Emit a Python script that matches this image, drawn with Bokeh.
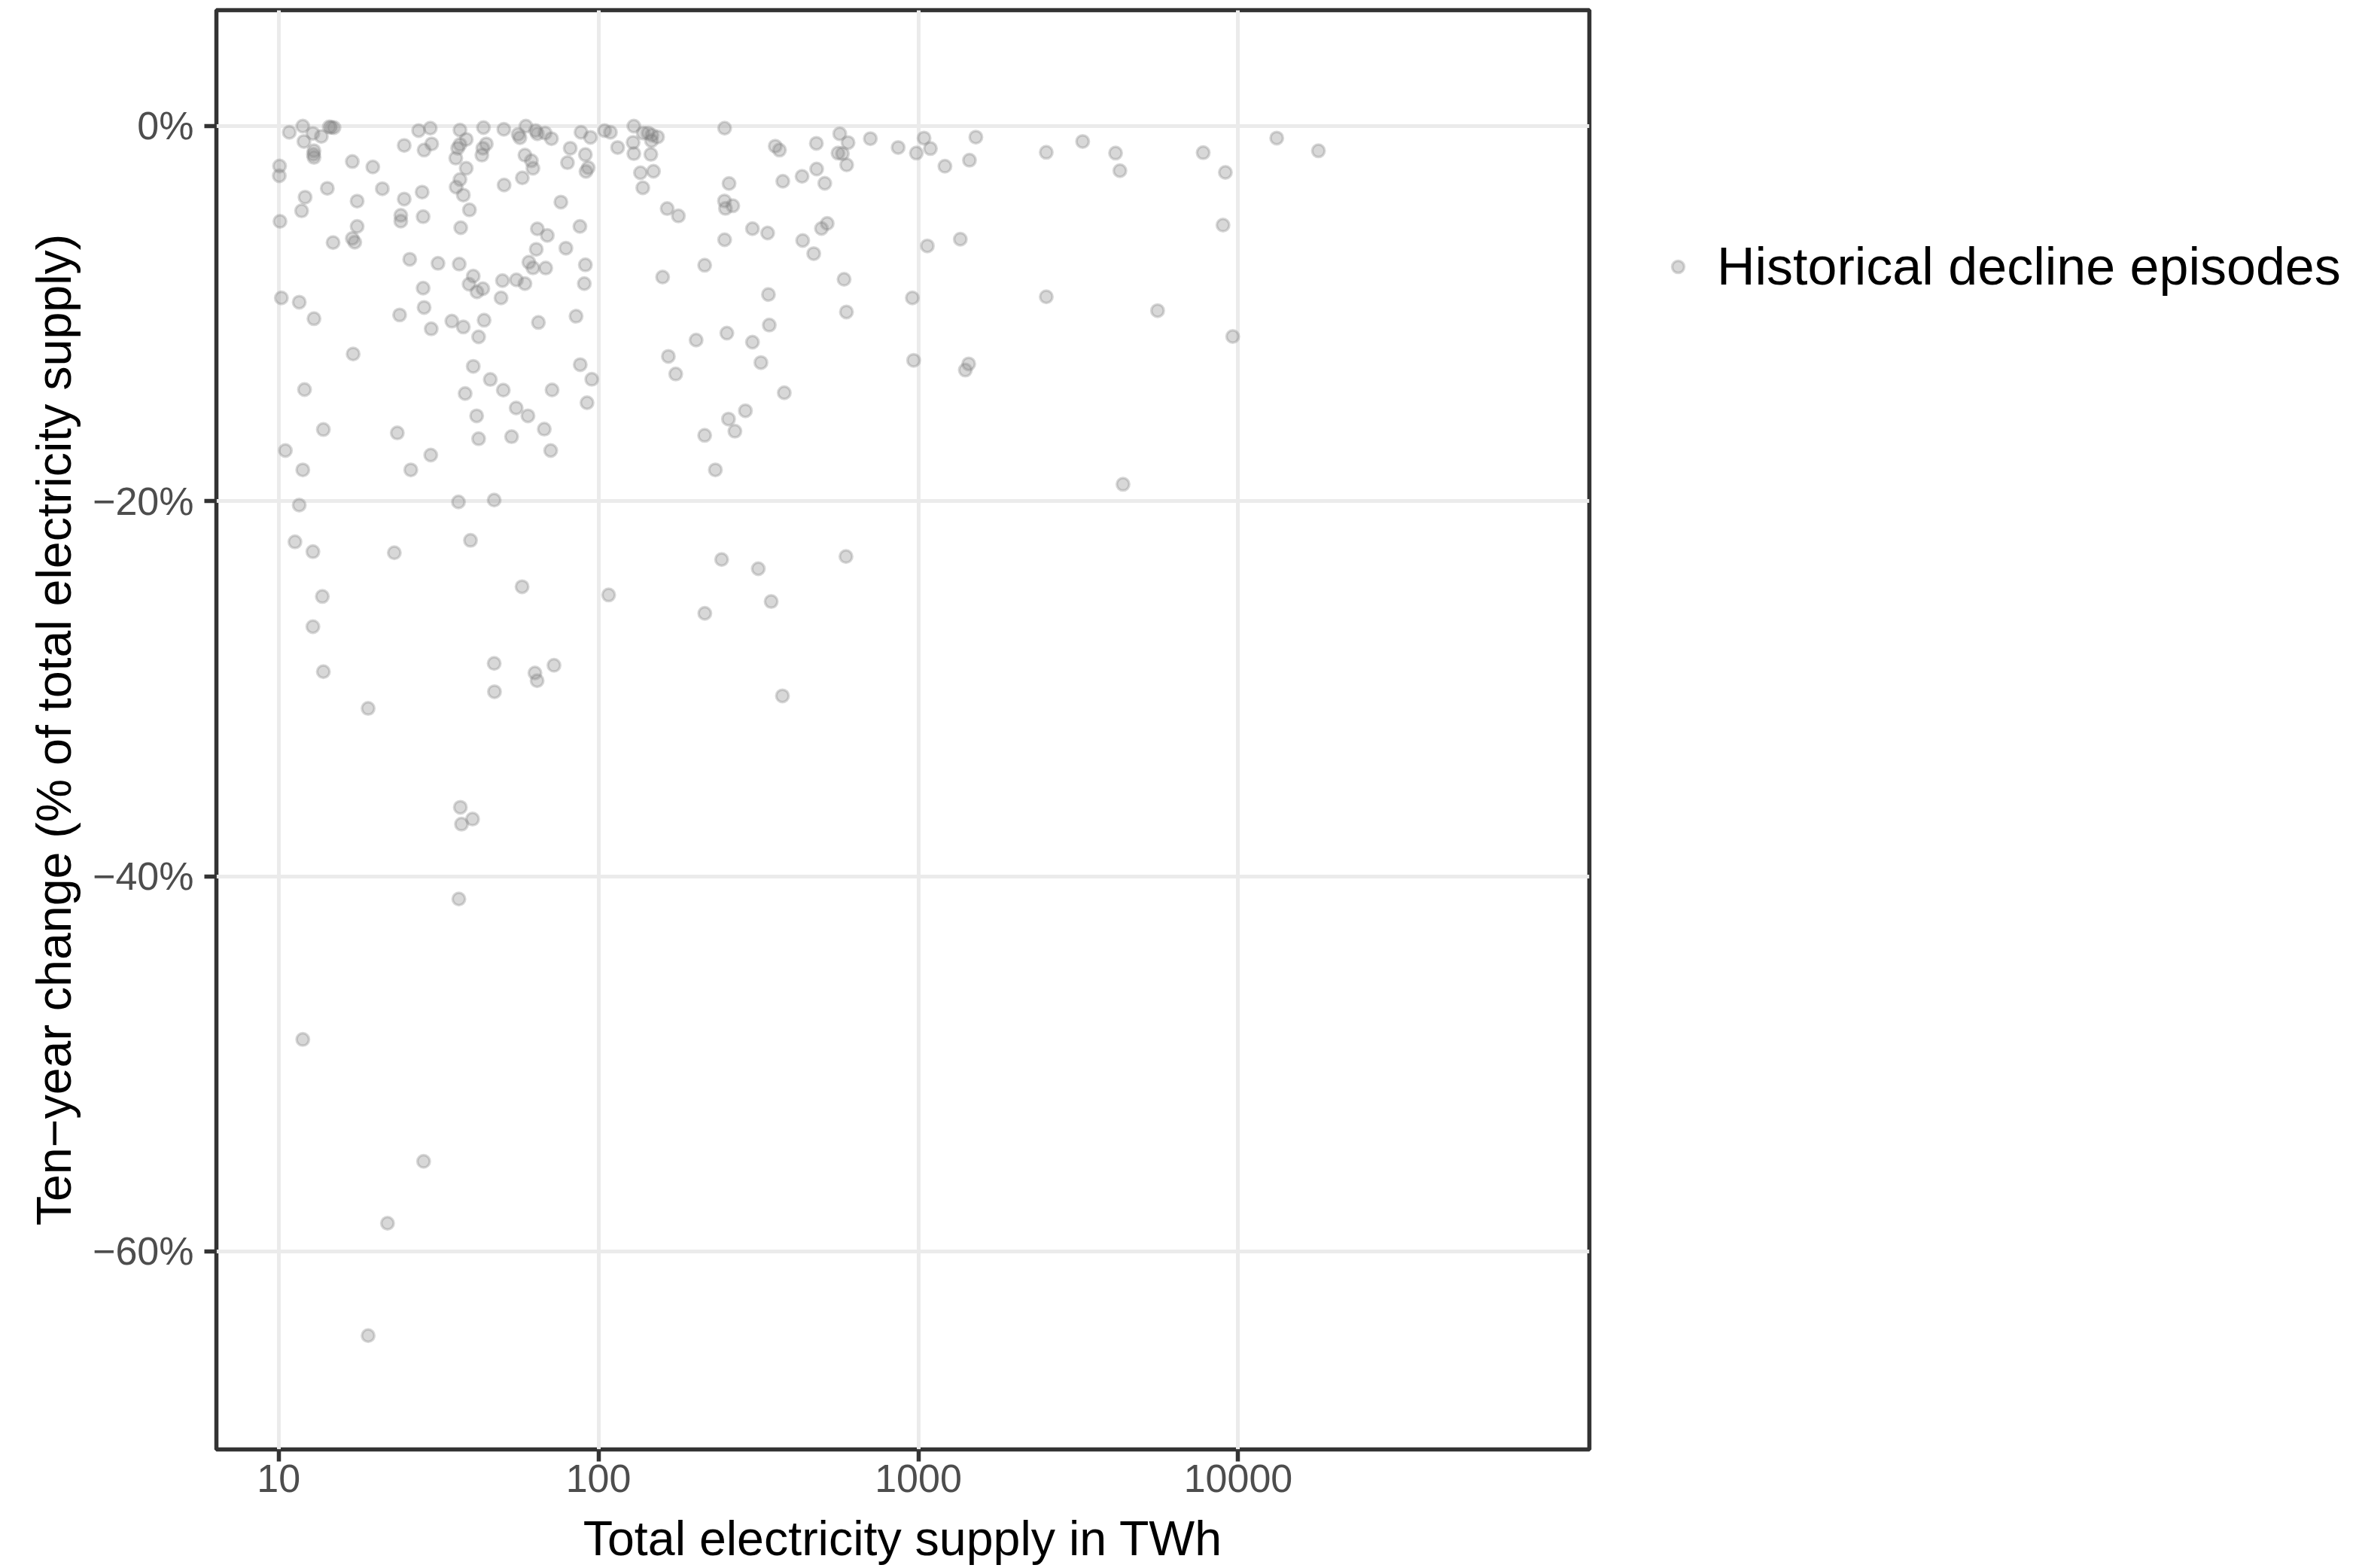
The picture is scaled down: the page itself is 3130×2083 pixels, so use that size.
from bokeh.plotting import figure
from bokeh.layouts import row
from bokeh.models import FixedTicker, Legend, LegendItem, ColumnDataSource, Range1d
from bokeh.embed import file_html
from bokeh.resources import INLINE

# ---- data ----
supply_twh = [
    10.8, 11.9, 12.8, 13.6, 12.0, 14.4, 14.6, 14.9, 12.9, 12.85, 12.9, 10.07, 10.05,
    17.0, 19.7, 14.2, 12.1, 11.8, 10.1, 17.6, 21.1, 24.7, 28.1, 24.1, 24.1, 28.3,
    17.6, 14.8, 17.0, 17.3, 24.7, 27.4, 29.8, 30.1, 28.5, 36.9, 38.6, 36.9, 36.3,
    35.8, 43.7, 44.6, 43.5, 43.2, 50.6, 56.1, 56.8, 59.3, 63.6, 64.4, 68.1, 71.3,
    58.9, 61.7, 62.4, 81.6, 88.2, 94.4, 91.0, 80.0, 92.9, 91.4, 57.8, 50.7, 38.6,
    36.9, 35.9, 37.8, 39.5, 37.1, 76.3, 64.4, 69.2, 87.5, 63.9, 79.1, 91.0, 90.3,
    60.6, 62.4, 68.4, 25.7, 31.5, 36.7, 40.6, 39.4, 41.7, 43.5, 50.1, 55.4, 58.9,
    49.6, 28.3, 28.5, 23.9, 34.8, 37.8, 43.9, 30.0, 42.2, 64.9, 85.1, 10.2, 11.6,
    12.9, 17.1, 40.6, 45.9, 50.4, 38.3, 71.6, 87.7, 95.3, 92.1, 55.3, 60.2, 41.6,
    67.7, 42.2, 53.5, 70.9, 23.5, 13.8, 12.05, 10.5, 29.9, 11.9, 25.9,
    104.5, 109, 114.8, 129, 138, 143, 147, 153, 146.5, 128.3, 129, 145.8, 135.3,
    148.6, 137.6, 164, 177.8, 248, 256, 247.7, 249.5, 263, 248, 214.8, 158.7, 252,
    202, 165.4, 174.4, 255, 267, 214.8, 232,
    568, 603, 708, 480, 357, 368, 561, 579, 597, 865, 986, 1042, 1091, 1211, 1445,
    1513, 2512, 3264, 4137, 4268, 481, 433, 377, 510, 303, 338, 435, 471, 498, 519,
    1067, 1353, 586, 340, 958, 2512, 5598, 596, 342, 303, 322, 967, 1437, 1403, 381,
    288,
    13200, 17820, 9120, 8966, 9616, 7773, 4365,
    11.6, 36.5, 47.2, 11.25, 12.8, 23.0, 39.8, 57.7, 107.6, 13.7, 12.8, 13.8, 19.05,
    47.2, 63.3, 64.3, 72.6, 47.3, 37.0, 40.4, 37.3,
    242.7, 316, 594, 346.7, 215, 376,
    36.6, 11.9, 28.4, 21.9, 19.05,
]
change_pct = [
    -0.33, 0.0, -0.39, -0.55, -0.82, -0.04, -0.07, -0.08, -1.32, -1.51, -1.67, -2.13, -2.65,
    -1.89, -2.18, -3.32, -3.79, -4.52, -5.08, -4.0, -3.34, -3.89, -3.52, -4.76, -5.07, -4.83,
    -5.35, -6.21, -5.99, -6.19, -1.03, -0.24, -0.11, -0.95, -1.28, -0.21, -0.71, -0.98, -1.18,
    -1.71, -0.08, -0.95, -1.18, -1.55, -0.17, -0.44, -0.62, 0.0, -0.24, -0.41, -0.37, -0.67,
    -1.55, -1.85, -2.25, -1.18, -0.33, -0.60, -1.52, -1.95, -2.22, -2.42, -2.76, -3.14, -2.25,
    -2.85, -3.25, -3.68, -4.47, -5.42, -4.05, -5.48, -5.83, -5.35, -6.57, -6.51, -7.40, -8.40,
    -7.26, -7.56, -7.57, -7.10, -7.32, -7.36, -8.0, -8.43, -8.84, -8.67, -8.24, -8.2, -8.40,
    -9.16, -8.64, -9.67, -10.07, -10.4, -10.71, -10.35, -10.81, -11.24, -10.47, -10.14, -9.16, -9.39,
    -10.27, -12.15, -12.81, -13.51, -14.08, -14.26, -14.07, -12.72, -13.5, -14.75, -15.03, -15.45, -15.45,
    -16.16, -16.67, -16.56, -17.3, -16.36, -16.18, -14.05, -17.3, -17.54, -18.33, -18.33,
    -0.24, -0.33, -1.14, 0.0, -0.37, -0.37, -0.48, -0.58, -0.78, -0.87, -1.47, -1.51, -2.49,
    -2.41, -3.29, -4.40, -4.79, -0.11, -3.06, -3.99, -4.39, -4.25, -6.06, -7.42, -8.05, -11.04,
    -11.41, -12.28, -13.22, -15.62, -16.27, -16.49, -18.33,
    -0.41, -0.88, -0.67, -0.92, -1.07, -1.28, -1.44, -1.47, -2.07, -1.14, -1.44, -0.64, -1.20, -2.14, -1.82,
    -0.59, -1.40, -0.82, -1.44, -2.38, -2.29, -2.68, -2.94, -3.05, -5.47, -5.70, -6.10, -6.80, -5.46, -5.19,
    -6.39, -6.03, -8.17, -8.98, -9.16, -9.10, -9.84, -9.91, -10.61, -11.52, -12.61, -12.49, -12.68, -13.01, -14.22,
    -15.18,
    -0.64, -1.32, -2.47, -5.28, -11.22, -1.42, -19.10,
    -20.21, -20.04, -19.94, -22.17, -22.69, -22.75, -22.09, -24.56, -25.0, -25.08, -26.69, -29.09, -31.05,
    -28.65, -29.16, -29.57, -28.75, -30.16, -36.32, -36.95, -37.22,
    -23.11, -23.60, -22.95, -25.35, -25.98, -30.38,
    -41.21, -48.70, -55.20, -58.50, -64.49,
]

x_ticks = [10, 100, 1000, 10000]
x_tick_labels = ["10", "100", "1000", "10000"]
y_ticks = [0, -20, -40, -60]
y_tick_labels = ["0%", "\u221220%", "\u221240%", "\u221260%"]

series_label = "Historical decline episodes"
x_title = "Total electricity supply in TWh"
y_title = "Ten\u2212year change (% of total electricity supply)"

FONT = "Liberation Sans"
DARK = "#333333"
GRID = "#EBEBEB"
PT_COLOR = "#7F7F7F"
PT_STYLE = dict(fill_color=PT_COLOR, fill_alpha=0.3,
                line_color=PT_COLOR, line_alpha=0.3, line_width=3.5)

src = ColumnDataSource(dict(x=supply_twh, y=change_pct))

# ---- main panel ----
p = figure(
    width=2121, height=2083,
    x_axis_type="log",
    x_range=Range1d(6.39, 125300),
    y_range=Range1d(-70.56, 6.18),
    output_backend="svg", toolbar_location=None, title=None,
    min_border_left=287, min_border_right=10,
    min_border_top=13, min_border_bottom=158,
)
p.background_fill_color = "white"
p.border_fill_color = "white"
p.outline_line_color = DARK
p.outline_line_width = 5.5

p.scatter(x="x", y="y", source=src, size=16.5, **PT_STYLE)

for g in (p.xgrid, p.ygrid):
    g.grid_line_color = GRID
    g.grid_line_width = 5
    g.minor_grid_line_color = None

xa = p.xaxis[0]
xa.ticker = FixedTicker(ticks=x_ticks)
xa.major_label_overrides = dict(zip(x_ticks, x_tick_labels))
xa.axis_label = x_title
xa.major_label_standoff = 4
xa.axis_label_standoff = 23

ya = p.yaxis[0]
ya.ticker = FixedTicker(ticks=y_ticks)
ya.major_label_overrides = dict(zip(y_ticks, y_tick_labels))
ya.axis_label = y_title
ya.major_label_standoff = 14
ya.axis_label_standoff = 12

for ax in (xa, ya):
    ax.axis_line_color = None
    ax.major_tick_line_color = DARK
    ax.major_tick_line_width = 5.5
    ax.major_tick_out = 16
    ax.major_tick_in = 0
    ax.minor_tick_line_color = None
    ax.major_label_text_font = FONT
    ax.major_label_text_font_size = "52px"
    ax.major_label_text_color = "#4D4D4D"
    ax.axis_label_text_font = FONT
    ax.axis_label_text_font_size = "64.5px"
    ax.axis_label_text_font_style = "normal"
    ax.axis_label_text_color = "black"

# ---- legend area (right of the panel) ----
# the key renderer uses the same data; its ranges keep every point out of view,
# so only the legend swatch is drawn here
q = figure(
    width=1009, height=2083,
    x_range=Range1d(0, 1), y_range=Range1d(0, 1),
    x_axis_location=None, y_axis_location=None,
    output_backend="svg", toolbar_location=None, title=None,
    min_border=0,
)
q.outline_line_color = None
q.background_fill_color = "white"
q.border_fill_color = "white"
q.grid.visible = False
key = q.scatter(x="x", y="y", source=src, size=16.5, **PT_STYLE)

legend = Legend(
    items=[LegendItem(label=series_label, renderers=[key])],
    location=(88, 1531),
    glyph_width=40, glyph_height=80, label_standoff=32,
    padding=0, margin=0, spacing=0,
    border_line_color=None, background_fill_alpha=0,
    label_text_font=FONT, label_text_font_size="70px", label_text_color="black",
)
q.add_layout(legend, "center")

open("out.html", "w").write(file_html(row(p, q), INLINE))
